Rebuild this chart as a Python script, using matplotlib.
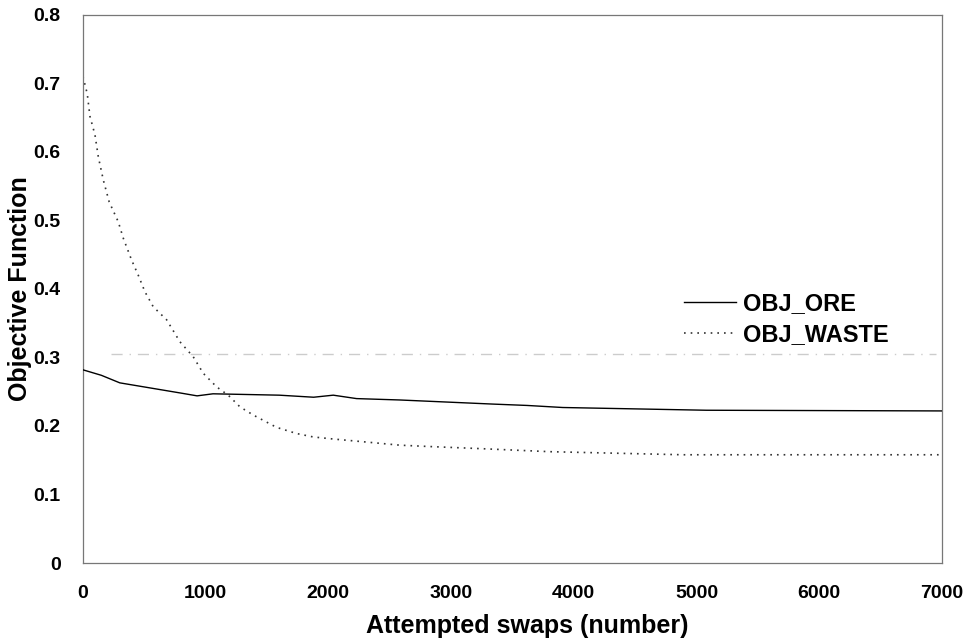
import matplotlib
matplotlib.use("Agg")
import matplotlib.pyplot as plt

plt.rcParams['font.family'] = ['Liberation Sans', 'DejaVu Sans']

# Data
ore_x = [0, 150, 300, 500, 800, 930, 1060, 1600, 1880, 2040, 2230, 2580, 2960, 3340, 3620, 3910, 5080, 7000]
ore_y = [0.282, 0.274, 0.263, 0.257, 0.248, 0.244, 0.247, 0.245, 0.242, 0.245, 0.240, 0.238, 0.235, 0.232, 0.230, 0.227, 0.223, 0.222]

waste_x = [0, 35, 57, 98, 125, 166, 214, 288, 329, 397, 451, 505, 573, 682, 790, 899, 980, 1090, 1184,
           1279, 1388, 1578, 1741, 1877, 2040, 2284, 2583, 2828, 3235, 3616, 3806, 4890, 7000]
waste_y = [0.71, 0.685, 0.652, 0.625, 0.593, 0.559, 0.527, 0.498, 0.474, 0.442, 0.420, 0.396, 0.374, 0.355,
           0.323, 0.301, 0.277, 0.257, 0.245, 0.228, 0.216, 0.198, 0.189, 0.184, 0.181, 0.177, 0.172, 0.170,
           0.167, 0.164, 0.1625, 0.158, 0.158]

# faint gray reference trace visible in the scan
ref_x = [230, 6950]
ref_y = [0.305, 0.305]

x_ticks = [0, 1000, 2000, 3000, 4000, 5000, 6000, 7000]
y_ticks = [0, 0.1, 0.2, 0.3, 0.4, 0.5, 0.6, 0.7, 0.8]
y_tick_labels = ['0', '0.1', '0.2', '0.3', '0.4', '0.5', '0.6', '0.7', '0.8']

fig = plt.figure(figsize=(9.68, 6.4), dpi=100)
ax = fig.add_axes([0.0857, 0.1203, 0.8873, 0.8563])

ax.plot(ref_x, ref_y, color='#cccccc', lw=1.0, linestyle=(0, (8, 5, 1, 5)), zorder=1)
ax.plot(ore_x, ore_y, color='black', lw=1.0, label='OBJ_ORE', zorder=3)
ax.plot(waste_x, waste_y, color='#333333', lw=1.2, linestyle=(0, (1, 3)), label='OBJ_WASTE', zorder=2)

ax.set_xlim(0, 7000)
ax.set_ylim(0, 0.8)
ax.set_xticks(x_ticks)
ax.set_yticks(y_ticks)
ax.set_yticklabels(y_tick_labels)
ax.tick_params(length=0, labelsize=14)
ax.tick_params(axis='x', pad=16)
ax.tick_params(axis='y', pad=16)
for lab in ax.get_xticklabels() + ax.get_yticklabels():
    lab.set_fontweight('bold')

for s in ax.spines.values():
    s.set_color('#777777')
    s.set_linewidth(0.9)

ax.set_xlabel('Attempted swaps (number)', fontsize=18, fontweight='bold')
ax.xaxis.set_label_coords(0.517, -0.093)
ax.set_ylabel('Objective Function', fontsize=18, fontweight='bold', labelpad=1.5)

leg = ax.legend(loc='center left', bbox_to_anchor=(0.675, 0.445), frameon=False,
                prop={'size': 17, 'weight': 'bold'}, handlelength=2.2, handletextpad=0.3,
                labelspacing=0.35)

fig.savefig('out.png', dpi=100)
